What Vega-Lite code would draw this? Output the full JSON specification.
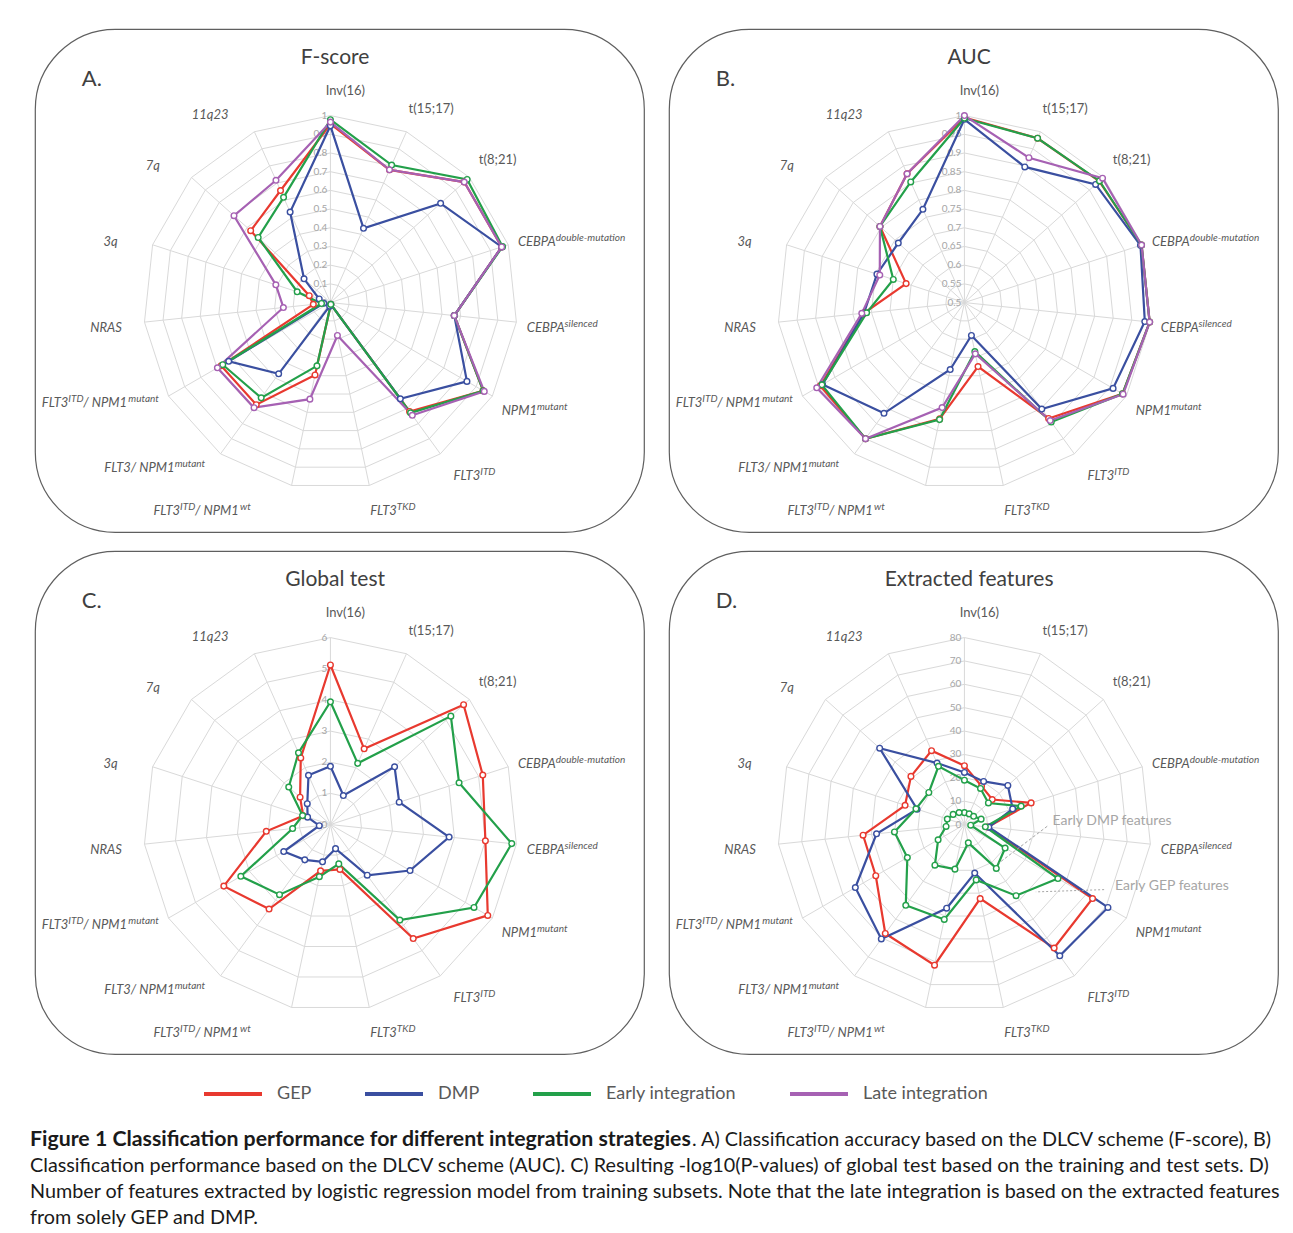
{
"$schema": "https://vega.github.io/schema/vega-lite/v6.json",
"background": "white",
"padding": {"left": 30, "top": 28, "right": 5, "bottom": 5},
"spacing": 17,
"config": {"view": {"stroke": "#5f5f5f", "strokeWidth": 1.2, "cornerRadius": 80}, "text": {"font": "Lato"}},
"vconcat": [
{
"data": {"values": [
{"p":"A","s":"GEP","k":0,"v":0.955},{"p":"A","s":"GEP","k":1,"v":0.777},{"p":"A","s":"GEP","k":2,"v":0.963},{"p":"A","s":"GEP","k":3,"v":0.963},{"p":"A","s":"GEP","k":4,"v":0.666},{"p":"A","s":"GEP","k":5,"v":0.943},{"p":"A","s":"GEP","k":6,"v":0.72},{"p":"A","s":"GEP","k":7,"v":0.01},{"p":"A","s":"GEP","k":8,"v":0.396},{"p":"A","s":"GEP","k":9,"v":0.675},{"p":"A","s":"GEP","k":10,"v":0.675},{"p":"A","s":"GEP","k":11,"v":0.092},{"p":"A","s":"GEP","k":12,"v":0.119},{"p":"A","s":"GEP","k":13,"v":0.574},{"p":"A","s":"GEP","k":14,"v":0.656},
{"p":"A","s":"DMP","k":0,"v":0.945},{"p":"A","s":"DMP","k":1,"v":0.435},{"p":"A","s":"DMP","k":2,"v":0.793},{"p":"A","s":"DMP","k":3,"v":0.963},{"p":"A","s":"DMP","k":4,"v":0.666},{"p":"A","s":"DMP","k":5,"v":0.843},{"p":"A","s":"DMP","k":6,"v":0.636},{"p":"A","s":"DMP","k":7,"v":0.01},{"p":"A","s":"DMP","k":8,"v":0.02},{"p":"A","s":"DMP","k":9,"v":0.471},{"p":"A","s":"DMP","k":10,"v":0.628},{"p":"A","s":"DMP","k":11,"v":0.036},{"p":"A","s":"DMP","k":12,"v":0.063},{"p":"A","s":"DMP","k":13,"v":0.19},{"p":"A","s":"DMP","k":14,"v":0.53},
{"p":"A","s":"Early integration","k":0,"v":0.978},{"p":"A","s":"Early integration","k":1,"v":0.805},{"p":"A","s":"Early integration","k":2,"v":0.984},{"p":"A","s":"Early integration","k":3,"v":0.968},{"p":"A","s":"Early integration","k":4,"v":0.666},{"p":"A","s":"Early integration","k":5,"v":0.943},{"p":"A","s":"Early integration","k":6,"v":0.729},{"p":"A","s":"Early integration","k":7,"v":0.01},{"p":"A","s":"Early integration","k":8,"v":0.346},{"p":"A","s":"Early integration","k":9,"v":0.63},{"p":"A","s":"Early integration","k":10,"v":0.665},{"p":"A","s":"Early integration","k":11,"v":0.048},{"p":"A","s":"Early integration","k":12,"v":0.187},{"p":"A","s":"Early integration","k":13,"v":0.52},{"p":"A","s":"Early integration","k":14,"v":0.616},
{"p":"A","s":"Late integration","k":0,"v":0.965},{"p":"A","s":"Late integration","k":1,"v":0.777},{"p":"A","s":"Late integration","k":2,"v":0.963},{"p":"A","s":"Late integration","k":3,"v":0.963},{"p":"A","s":"Late integration","k":4,"v":0.666},{"p":"A","s":"Late integration","k":5,"v":0.95},{"p":"A","s":"Late integration","k":6,"v":0.745},{"p":"A","s":"Late integration","k":7,"v":0.18},{"p":"A","s":"Late integration","k":8,"v":0.528},{"p":"A","s":"Late integration","k":9,"v":0.695},{"p":"A","s":"Late integration","k":10,"v":0.698},{"p":"A","s":"Late integration","k":11,"v":0.253},{"p":"A","s":"Late integration","k":12,"v":0.307},{"p":"A","s":"Late integration","k":13,"v":0.694},{"p":"A","s":"Late integration","k":14,"v":0.716},
{"p":"B","s":"GEP","k":0,"v":0.995},{"p":"B","s":"GEP","k":1,"v":0.981},{"p":"B","s":"GEP","k":2,"v":0.985},{"p":"B","s":"GEP","k":3,"v":0.998},{"p":"B","s":"GEP","k":4,"v":0.998},{"p":"B","s":"GEP","k":5,"v":0.988},{"p":"B","s":"GEP","k":6,"v":0.883},{"p":"B","s":"GEP","k":7,"v":0.675},{"p":"B","s":"GEP","k":8,"v":0.818},{"p":"B","s":"GEP","k":9,"v":0.95},{"p":"B","s":"GEP","k":10,"v":0.945},{"p":"B","s":"GEP","k":11,"v":0.77},{"p":"B","s":"GEP","k":12,"v":0.664},{"p":"B","s":"GEP","k":13,"v":0.804},{"p":"B","s":"GEP","k":14,"v":0.877},
{"p":"B","s":"DMP","k":0,"v":0.99},{"p":"B","s":"DMP","k":1,"v":0.897},{"p":"B","s":"DMP","k":2,"v":0.972},{"p":"B","s":"DMP","k":3,"v":0.995},{"p":"B","s":"DMP","k":4,"v":0.985},{"p":"B","s":"DMP","k":5,"v":0.959},{"p":"B","s":"DMP","k":6,"v":0.852},{"p":"B","s":"DMP","k":7,"v":0.59},{"p":"B","s":"DMP","k":8,"v":0.683},{"p":"B","s":"DMP","k":9,"v":0.866},{"p":"B","s":"DMP","k":10,"v":0.938},{"p":"B","s":"DMP","k":11,"v":0.77},{"p":"B","s":"DMP","k":12,"v":0.746},{"p":"B","s":"DMP","k":13,"v":0.738},{"p":"B","s":"DMP","k":14,"v":0.773},
{"p":"B","s":"Early integration","k":0,"v":0.993},{"p":"B","s":"Early integration","k":1,"v":0.981},{"p":"B","s":"Early integration","k":2,"v":0.986},{"p":"B","s":"Early integration","k":3,"v":0.998},{"p":"B","s":"Early integration","k":4,"v":0.998},{"p":"B","s":"Early integration","k":5,"v":0.988},{"p":"B","s":"Early integration","k":6,"v":0.895},{"p":"B","s":"Early integration","k":7,"v":0.634},{"p":"B","s":"Early integration","k":8,"v":0.82},{"p":"B","s":"Early integration","k":9,"v":0.95},{"p":"B","s":"Early integration","k":10,"v":0.94},{"p":"B","s":"Early integration","k":11,"v":0.763},{"p":"B","s":"Early integration","k":12,"v":0.7},{"p":"B","s":"Early integration","k":13,"v":0.804},{"p":"B","s":"Early integration","k":14,"v":0.853},
{"p":"B","s":"Late integration","k":0,"v":1.0},{"p":"B","s":"Late integration","k":1,"v":0.924},{"p":"B","s":"Late integration","k":2,"v":0.997},{"p":"B","s":"Late integration","k":3,"v":0.998},{"p":"B","s":"Late integration","k":4,"v":0.998},{"p":"B","s":"Late integration","k":5,"v":0.99},{"p":"B","s":"Late integration","k":6,"v":0.89},{"p":"B","s":"Late integration","k":7,"v":0.64},{"p":"B","s":"Late integration","k":8,"v":0.787},{"p":"B","s":"Late integration","k":9,"v":0.95},{"p":"B","s":"Late integration","k":10,"v":0.956},{"p":"B","s":"Late integration","k":11,"v":0.776},{"p":"B","s":"Late integration","k":12,"v":0.738},{"p":"B","s":"Late integration","k":13,"v":0.804},{"p":"B","s":"Late integration","k":14,"v":0.877},
{"p":"C","s":"GEP","k":0,"v":5.12},{"p":"C","s":"GEP","k":1,"v":2.66},{"p":"C","s":"GEP","k":2,"v":5.75},{"p":"C","s":"GEP","k":3,"v":5.14},{"p":"C","s":"GEP","k":4,"v":5.0},{"p":"C","s":"GEP","k":5,"v":5.83},{"p":"C","s":"GEP","k":6,"v":4.52},{"p":"C","s":"GEP","k":7,"v":1.47},{"p":"C","s":"GEP","k":8,"v":1.52},{"p":"C","s":"GEP","k":9,"v":3.35},{"p":"C","s":"GEP","k":10,"v":3.95},{"p":"C","s":"GEP","k":11,"v":2.07},{"p":"C","s":"GEP","k":12,"v":0.92},{"p":"C","s":"GEP","k":13,"v":1.31},{"p":"C","s":"GEP","k":14,"v":2.34},
{"p":"C","s":"DMP","k":0,"v":1.87},{"p":"C","s":"DMP","k":1,"v":1.02},{"p":"C","s":"DMP","k":2,"v":2.77},{"p":"C","s":"DMP","k":3,"v":2.32},{"p":"C","s":"DMP","k":4,"v":3.83},{"p":"C","s":"DMP","k":5,"v":2.95},{"p":"C","s":"DMP","k":6,"v":2.01},{"p":"C","s":"DMP","k":7,"v":0.79},{"p":"C","s":"DMP","k":8,"v":1.22},{"p":"C","s":"DMP","k":9,"v":1.4},{"p":"C","s":"DMP","k":10,"v":1.73},{"p":"C","s":"DMP","k":11,"v":0.36},{"p":"C","s":"DMP","k":12,"v":0.77},{"p":"C","s":"DMP","k":13,"v":1.0},{"p":"C","s":"DMP","k":14,"v":1.73},
{"p":"C","s":"Early integration","k":0,"v":3.94},{"p":"C","s":"Early integration","k":1,"v":2.15},{"p":"C","s":"Early integration","k":2,"v":5.2},{"p":"C","s":"Early integration","k":3,"v":4.34},{"p":"C","s":"Early integration","k":4,"v":5.85},{"p":"C","s":"Early integration","k":5,"v":5.32},{"p":"C","s":"Early integration","k":6,"v":3.79},{"p":"C","s":"Early integration","k":7,"v":1.29},{"p":"C","s":"Early integration","k":8,"v":1.71},{"p":"C","s":"Early integration","k":9,"v":2.78},{"p":"C","s":"Early integration","k":10,"v":3.32},{"p":"C","s":"Early integration","k":11,"v":1.22},{"p":"C","s":"Early integration","k":12,"v":0.94},{"p":"C","s":"Early integration","k":13,"v":1.8},{"p":"C","s":"Early integration","k":14,"v":2.52},
{"p":"D","s":"GEP","k":0,"v":25.2},{"p":"D","s":"GEP","k":1,"v":18},{"p":"D","s":"GEP","k":2,"v":16},{"p":"D","s":"GEP","k":3,"v":30},{"p":"D","s":"GEP","k":4,"v":10},{"p":"D","s":"GEP","k":5,"v":63.3},{"p":"D","s":"GEP","k":6,"v":65.3},{"p":"D","s":"GEP","k":7,"v":32.4},{"p":"D","s":"GEP","k":8,"v":61.5},{"p":"D","s":"GEP","k":9,"v":57.6},{"p":"D","s":"GEP","k":10,"v":43.8},{"p":"D","s":"GEP","k":11,"v":43.6},{"p":"D","s":"GEP","k":12,"v":26.7},{"p":"D","s":"GEP","k":13,"v":30.8},{"p":"D","s":"GEP","k":14,"v":34.6},
{"p":"D","s":"DMP","k":0,"v":22.3},{"p":"D","s":"DMP","k":1,"v":20.2},{"p":"D","s":"DMP","k":2,"v":25},{"p":"D","s":"DMP","k":3,"v":21.7},{"p":"D","s":"DMP","k":4,"v":10.5},{"p":"D","s":"DMP","k":5,"v":70.9},{"p":"D","s":"DMP","k":6,"v":69.4},{"p":"D","s":"DMP","k":7,"v":21.2},{"p":"D","s":"DMP","k":8,"v":36.6},{"p":"D","s":"DMP","k":9,"v":60.5},{"p":"D","s":"DMP","k":10,"v":53.9},{"p":"D","s":"DMP","k":11,"v":37.8},{"p":"D","s":"DMP","k":12,"v":21.3},{"p":"D","s":"DMP","k":13,"v":48.8},{"p":"D","s":"DMP","k":14,"v":28.8},
{"p":"D","s":"Early integration","g":"GEP features","k":0,"v":19},{"p":"D","s":"Early integration","g":"GEP features","k":1,"v":16.9},{"p":"D","s":"Early integration","g":"GEP features","k":2,"v":13.8},{"p":"D","s":"Early integration","g":"GEP features","k":3,"v":25.5},{"p":"D","s":"Early integration","g":"GEP features","k":4,"v":9},{"p":"D","s":"Early integration","g":"GEP features","k":5,"v":46.2},{"p":"D","s":"Early integration","g":"GEP features","k":6,"v":37.6},{"p":"D","s":"Early integration","g":"GEP features","k":7,"v":24.2},{"p":"D","s":"Early integration","g":"GEP features","k":8,"v":41.5},{"p":"D","s":"Early integration","g":"GEP features","k":9,"v":42.7},{"p":"D","s":"Early integration","g":"GEP features","k":10,"v":28.2},{"p":"D","s":"Early integration","g":"GEP features","k":11,"v":30.1},{"p":"D","s":"Early integration","g":"GEP features","k":12,"v":21.8},{"p":"D","s":"Early integration","g":"GEP features","k":13,"v":20.5},{"p":"D","s":"Early integration","g":"GEP features","k":14,"v":27.3},
{"p":"D","s":"Early integration","g":"DMP features","k":0,"v":5.1},{"p":"D","s":"Early integration","g":"DMP features","k":1,"v":5.0},{"p":"D","s":"Early integration","g":"DMP features","k":2,"v":5.3},{"p":"D","s":"Early integration","g":"DMP features","k":3,"v":7.5},{"p":"D","s":"Early integration","g":"DMP features","k":4,"v":2.7},{"p":"D","s":"Early integration","g":"DMP features","k":5,"v":20.1},{"p":"D","s":"Early integration","g":"DMP features","k":6,"v":23.2},{"p":"D","s":"Early integration","g":"DMP features","k":7,"v":8.0},{"p":"D","s":"Early integration","g":"DMP features","k":8,"v":19.5},{"p":"D","s":"Early integration","g":"DMP features","k":9,"v":21.5},{"p":"D","s":"Early integration","g":"DMP features","k":10,"v":13},{"p":"D","s":"Early integration","g":"DMP features","k":11,"v":7.9},{"p":"D","s":"Early integration","g":"DMP features","k":12,"v":7.7},{"p":"D","s":"Early integration","g":"DMP features","k":13,"v":6.5},{"p":"D","s":"Early integration","g":"DMP features","k":14,"v":5.6},
{"p":"A","v":0,"k":[0,1,2,3,4,5,6,7,8,9,10,11,12,13,14]},{"p":"A","v":0.1,"k":[0,1,2,3,4,5,6,7,8,9,10,11,12,13,14]},{"p":"A","v":0.2,"k":[0,1,2,3,4,5,6,7,8,9,10,11,12,13,14]},{"p":"A","v":0.3,"k":[0,1,2,3,4,5,6,7,8,9,10,11,12,13,14]},{"p":"A","v":0.4,"k":[0,1,2,3,4,5,6,7,8,9,10,11,12,13,14]},{"p":"A","v":0.5,"k":[0,1,2,3,4,5,6,7,8,9,10,11,12,13,14]},{"p":"A","v":0.6,"k":[0,1,2,3,4,5,6,7,8,9,10,11,12,13,14]},{"p":"A","v":0.7,"k":[0,1,2,3,4,5,6,7,8,9,10,11,12,13,14]},{"p":"A","v":0.8,"k":[0,1,2,3,4,5,6,7,8,9,10,11,12,13,14]},{"p":"A","v":0.9,"k":[0,1,2,3,4,5,6,7,8,9,10,11,12,13,14]},{"p":"A","v":1,"k":[0,1,2,3,4,5,6,7,8,9,10,11,12,13,14]},
{"p":"B","v":0.5,"k":[0,1,2,3,4,5,6,7,8,9,10,11,12,13,14]},{"p":"B","v":0.55,"k":[0,1,2,3,4,5,6,7,8,9,10,11,12,13,14]},{"p":"B","v":0.6,"k":[0,1,2,3,4,5,6,7,8,9,10,11,12,13,14]},{"p":"B","v":0.65,"k":[0,1,2,3,4,5,6,7,8,9,10,11,12,13,14]},{"p":"B","v":0.7,"k":[0,1,2,3,4,5,6,7,8,9,10,11,12,13,14]},{"p":"B","v":0.75,"k":[0,1,2,3,4,5,6,7,8,9,10,11,12,13,14]},{"p":"B","v":0.8,"k":[0,1,2,3,4,5,6,7,8,9,10,11,12,13,14]},{"p":"B","v":0.85,"k":[0,1,2,3,4,5,6,7,8,9,10,11,12,13,14]},{"p":"B","v":0.9,"k":[0,1,2,3,4,5,6,7,8,9,10,11,12,13,14]},{"p":"B","v":0.95,"k":[0,1,2,3,4,5,6,7,8,9,10,11,12,13,14]},{"p":"B","v":1,"k":[0,1,2,3,4,5,6,7,8,9,10,11,12,13,14]},
{"p":"C","v":0,"k":[0,1,2,3,4,5,6,7,8,9,10,11,12,13,14]},{"p":"C","v":1,"k":[0,1,2,3,4,5,6,7,8,9,10,11,12,13,14]},{"p":"C","v":2,"k":[0,1,2,3,4,5,6,7,8,9,10,11,12,13,14]},{"p":"C","v":3,"k":[0,1,2,3,4,5,6,7,8,9,10,11,12,13,14]},{"p":"C","v":4,"k":[0,1,2,3,4,5,6,7,8,9,10,11,12,13,14]},{"p":"C","v":5,"k":[0,1,2,3,4,5,6,7,8,9,10,11,12,13,14]},{"p":"C","v":6,"k":[0,1,2,3,4,5,6,7,8,9,10,11,12,13,14]},
{"p":"D","v":0,"k":[0,1,2,3,4,5,6,7,8,9,10,11,12,13,14]},{"p":"D","v":10,"k":[0,1,2,3,4,5,6,7,8,9,10,11,12,13,14]},{"p":"D","v":20,"k":[0,1,2,3,4,5,6,7,8,9,10,11,12,13,14]},{"p":"D","v":30,"k":[0,1,2,3,4,5,6,7,8,9,10,11,12,13,14]},{"p":"D","v":40,"k":[0,1,2,3,4,5,6,7,8,9,10,11,12,13,14]},{"p":"D","v":50,"k":[0,1,2,3,4,5,6,7,8,9,10,11,12,13,14]},{"p":"D","v":60,"k":[0,1,2,3,4,5,6,7,8,9,10,11,12,13,14]},{"p":"D","v":70,"k":[0,1,2,3,4,5,6,7,8,9,10,11,12,13,14]},{"p":"D","v":80,"k":[0,1,2,3,4,5,6,7,8,9,10,11,12,13,14]},
{"p":"A","k":0,"t":"Inv(16)","s1":"","m":"","s2":""},{"p":"A","k":1,"t":"t(15;17)","s1":"","m":"","s2":""},{"p":"A","k":2,"t":"t(8;21)","s1":"","m":"","s2":""},{"p":"A","k":3,"t":"CEBPA","s1":"double-mutation","m":"","s2":""},{"p":"A","k":4,"t":"CEBPA","s1":"silenced","m":"","s2":""},{"p":"A","k":5,"t":"NPM1","s1":"mutant","m":"","s2":""},{"p":"A","k":6,"t":"FLT3","s1":"ITD","m":"","s2":""},{"p":"A","k":7,"t":"FLT3","s1":"TKD","m":"","s2":""},{"p":"A","k":8,"t":"FLT3","s1":"ITD","m":"/ NPM1","s2":"wt"},{"p":"A","k":9,"t":"FLT3/ NPM1","s1":"mutant","m":"","s2":""},{"p":"A","k":10,"t":"FLT3","s1":"ITD","m":"/ NPM1","s2":"mutant"},{"p":"A","k":11,"t":"NRAS","s1":"","m":"","s2":""},{"p":"A","k":12,"t":"3q","s1":"","m":"","s2":""},{"p":"A","k":13,"t":"7q","s1":"","m":"","s2":""},{"p":"A","k":14,"t":"11q23","s1":"","m":"","s2":""},
{"p":"B","k":0,"t":"Inv(16)","s1":"","m":"","s2":""},{"p":"B","k":1,"t":"t(15;17)","s1":"","m":"","s2":""},{"p":"B","k":2,"t":"t(8;21)","s1":"","m":"","s2":""},{"p":"B","k":3,"t":"CEBPA","s1":"double-mutation","m":"","s2":""},{"p":"B","k":4,"t":"CEBPA","s1":"silenced","m":"","s2":""},{"p":"B","k":5,"t":"NPM1","s1":"mutant","m":"","s2":""},{"p":"B","k":6,"t":"FLT3","s1":"ITD","m":"","s2":""},{"p":"B","k":7,"t":"FLT3","s1":"TKD","m":"","s2":""},{"p":"B","k":8,"t":"FLT3","s1":"ITD","m":"/ NPM1","s2":"wt"},{"p":"B","k":9,"t":"FLT3/ NPM1","s1":"mutant","m":"","s2":""},{"p":"B","k":10,"t":"FLT3","s1":"ITD","m":"/ NPM1","s2":"mutant"},{"p":"B","k":11,"t":"NRAS","s1":"","m":"","s2":""},{"p":"B","k":12,"t":"3q","s1":"","m":"","s2":""},{"p":"B","k":13,"t":"7q","s1":"","m":"","s2":""},{"p":"B","k":14,"t":"11q23","s1":"","m":"","s2":""},
{"p":"C","k":0,"t":"Inv(16)","s1":"","m":"","s2":""},{"p":"C","k":1,"t":"t(15;17)","s1":"","m":"","s2":""},{"p":"C","k":2,"t":"t(8;21)","s1":"","m":"","s2":""},{"p":"C","k":3,"t":"CEBPA","s1":"double-mutation","m":"","s2":""},{"p":"C","k":4,"t":"CEBPA","s1":"silenced","m":"","s2":""},{"p":"C","k":5,"t":"NPM1","s1":"mutant","m":"","s2":""},{"p":"C","k":6,"t":"FLT3","s1":"ITD","m":"","s2":""},{"p":"C","k":7,"t":"FLT3","s1":"TKD","m":"","s2":""},{"p":"C","k":8,"t":"FLT3","s1":"ITD","m":"/ NPM1","s2":"wt"},{"p":"C","k":9,"t":"FLT3/ NPM1","s1":"mutant","m":"","s2":""},{"p":"C","k":10,"t":"FLT3","s1":"ITD","m":"/ NPM1","s2":"mutant"},{"p":"C","k":11,"t":"NRAS","s1":"","m":"","s2":""},{"p":"C","k":12,"t":"3q","s1":"","m":"","s2":""},{"p":"C","k":13,"t":"7q","s1":"","m":"","s2":""},{"p":"C","k":14,"t":"11q23","s1":"","m":"","s2":""},
{"p":"D","k":0,"t":"Inv(16)","s1":"","m":"","s2":""},{"p":"D","k":1,"t":"t(15;17)","s1":"","m":"","s2":""},{"p":"D","k":2,"t":"t(8;21)","s1":"","m":"","s2":""},{"p":"D","k":3,"t":"CEBPA","s1":"double-mutation","m":"","s2":""},{"p":"D","k":4,"t":"CEBPA","s1":"silenced","m":"","s2":""},{"p":"D","k":5,"t":"NPM1","s1":"mutant","m":"","s2":""},{"p":"D","k":6,"t":"FLT3","s1":"ITD","m":"","s2":""},{"p":"D","k":7,"t":"FLT3","s1":"TKD","m":"","s2":""},{"p":"D","k":8,"t":"FLT3","s1":"ITD","m":"/ NPM1","s2":"wt"},{"p":"D","k":9,"t":"FLT3/ NPM1","s1":"mutant","m":"","s2":""},{"p":"D","k":10,"t":"FLT3","s1":"ITD","m":"/ NPM1","s2":"mutant"},{"p":"D","k":11,"t":"NRAS","s1":"","m":"","s2":""},{"p":"D","k":12,"t":"3q","s1":"","m":"","s2":""},{"p":"D","k":13,"t":"7q","s1":"","m":"","s2":""},{"p":"D","k":14,"t":"11q23","s1":"","m":"","s2":""},
{"p":"A","ttl":"F-score","lt":"A."},{"p":"B","ttl":"AUC","lt":"B."},{"p":"C","ttl":"Global test","lt":"C."},{"p":"D","ttl":"Extracted features","lt":"D."},
{"p":"D","note":"Early DMP features"},{"p":"D","note":"Early GEP features"}
]},
"transform": [{"calculate": "datum.p=='A' || datum.p=='B' ? 0 : 1", "as": "prow"}, {"calculate": "datum.p=='A' || datum.p=='C' ? 0 : 1", "as": "pcol"}],
"facet": {"row": {"field": "prow", "type": "ordinal", "header": null}, "column": {"field": "pcol", "type": "ordinal", "header": null}},
"spacing": {"row": 17, "column": 23},
"spec": {
"width": 609, "height": 503,
"encoding": {
"x": {"field": "x", "type": "quantitative", "scale": {"domain": [-1.58, 1.677], "nice": false, "zero": false}, "axis": null},
"y": {"field": "y", "type": "quantitative", "scale": {"domain": [-1.227, 1.463], "nice": false, "zero": false}, "axis": null}
},
"layer": [
{"transform": [{"filter": "isArray(datum.k)"}, {"flatten": ["k"]}, {"calculate": "datum.p=='B' ? (datum.v-0.5)/0.5 : datum.p=='C' ? datum.v/6 : datum.p=='D' ? datum.v/80 : datum.v", "as": "r"}, {"calculate": "datum.r*sin(datum.k*PI/7.5)", "as": "x"}, {"calculate": "datum.r*cos(datum.k*PI/7.5)", "as": "y"}],
 "mark": {"type": "line", "interpolate": "linear-closed", "stroke": "#d9d9d9", "strokeWidth": 1},
 "encoding": {"detail": {"field": "v", "type": "nominal"}, "order": {"field": "k", "type": "quantitative"}}},
{"transform": [{"filter": "datum.t != null"}, {"calculate": "0", "as": "x"}, {"calculate": "0", "as": "y"}, {"calculate": "sin(datum.k*PI/7.5)", "as": "ex"}, {"calculate": "cos(datum.k*PI/7.5)", "as": "ey"}],
 "mark": {"type": "rule", "stroke": "#d9d9d9", "strokeWidth": 1},
 "encoding": {"x2": {"field": "ex"}, "y2": {"field": "ey"}}},
{"transform": [{"filter": "isArray(datum.k)"}, {"calculate": "datum.p=='B' ? (datum.v-0.5)/0.5 : datum.p=='C' ? datum.v/6 : datum.p=='D' ? datum.v/80 : datum.v", "as": "y"}, {"calculate": "0", "as": "x"}],
 "mark": {"type": "text", "align": "right", "baseline": "middle", "dx": -3, "fontSize": 10, "color": "#a6a6a6"},
 "encoding": {"text": {"field": "v", "type": "nominal"}}},
{"transform": [{"filter": "datum.s != null"}, {"calculate": "datum.p=='B' ? (datum.v-0.5)/0.5 : datum.p=='C' ? datum.v/6 : datum.p=='D' ? datum.v/80 : datum.v", "as": "r"}, {"calculate": "datum.r*sin(datum.k*PI/7.5)", "as": "x"}, {"calculate": "datum.r*cos(datum.k*PI/7.5)", "as": "y"}],
 "mark": {"type": "line", "interpolate": "linear-closed", "strokeWidth": 2.2},
 "encoding": {
  "color": {"field": "s", "type": "nominal", "scale": {"domain": ["GEP", "DMP", "Early integration", "Late integration"], "range": ["#e8392f", "#3a4fa0", "#23a04a", "#a661b3"]},
   "legend": {"orient": "none", "legendX": 167, "legendY": 1034, "direction": "horizontal", "title": null, "symbolType": "stroke", "symbolStrokeWidth": 4, "symbolSize": 3364, "labelFont": "Lato", "labelFontSize": 18, "labelColor": "#595959", "labelOffset": 13, "columnPadding": 45, "padding": 0}},
  "detail": {"field": "g", "type": "nominal"},
  "order": {"field": "k", "type": "quantitative"}}},
{"transform": [{"filter": "datum.s != null"}, {"calculate": "datum.p=='B' ? (datum.v-0.5)/0.5 : datum.p=='C' ? datum.v/6 : datum.p=='D' ? datum.v/80 : datum.v", "as": "r"}, {"calculate": "datum.r*sin(datum.k*PI/7.5)", "as": "x"}, {"calculate": "datum.r*cos(datum.k*PI/7.5)", "as": "y"}],
 "mark": {"type": "point", "shape": "circle", "filled": true, "fill": "white", "size": 32, "strokeWidth": 1.4, "opacity": 1},
 "encoding": {"stroke": {"field": "s", "type": "nominal", "scale": {"domain": ["GEP", "DMP", "Early integration", "Late integration"], "range": ["#e8392f", "#3a4fa0", "#23a04a", "#a661b3"]}, "legend": null}}},
{"transform": [{"filter": "datum.t != null && datum.k < 3"}, {"calculate": "datum.k*PI/7.5", "as": "ang"}, {"calculate": "length(datum.t)*(datum.k < 3 ? 5.8 : 7.5)", "as": "w1"}, {"calculate": "length(datum.s1)*5", "as": "w2"}, {"calculate": "length(datum.m)*7.5", "as": "w3"}, {"calculate": "length(datum.s2)*5", "as": "w4"}, {"calculate": "1.09*sin(datum.ang)", "as": "ax"}, {"calculate": "sin(datum.ang) < -0.01 ? max(datum.ax - (datum.w1+datum.w2+datum.w3+datum.w4)/187, -1.53) + (cos(datum.ang) > 0 ? -19 : (sin(datum.ang) > -0.3 ? -38 : -6))/187 : datum.ax + ((cos(datum.ang) < -0.3 && cos(datum.ang) > -0.9) ? 0 : -6)/187", "as": "xs"}, {"calculate": "1.12*cos(datum.ang) + ((sin(datum.ang) < -0.3 && cos(datum.ang) < -0.3) ? 8/187 : 0)", "as": "y"}, {"calculate": "datum.xs + datum.w1/187", "as": "x"}],
 "mark": {"type": "text", "align": "right", "baseline": "middle", "dy": -2, "fontSize": 13, "color": "#595959"},
 "encoding": {"text": {"field": "t"}}},
{"transform": [{"filter": "datum.t != null && datum.k >= 3"}, {"calculate": "datum.k*PI/7.5", "as": "ang"}, {"calculate": "length(datum.t)*(datum.k < 3 ? 5.8 : 7.5)", "as": "w1"}, {"calculate": "length(datum.s1)*5", "as": "w2"}, {"calculate": "length(datum.m)*7.5", "as": "w3"}, {"calculate": "length(datum.s2)*5", "as": "w4"}, {"calculate": "1.09*sin(datum.ang)", "as": "ax"}, {"calculate": "sin(datum.ang) < -0.01 ? max(datum.ax - (datum.w1+datum.w2+datum.w3+datum.w4)/187, -1.53) + (cos(datum.ang) > 0 ? -19 : (sin(datum.ang) > -0.3 ? -38 : -6))/187 : datum.ax + ((cos(datum.ang) < -0.3 && cos(datum.ang) > -0.9) ? 0 : -6)/187", "as": "xs"}, {"calculate": "1.12*cos(datum.ang) + ((sin(datum.ang) < -0.3 && cos(datum.ang) < -0.3) ? 8/187 : 0)", "as": "y"}, {"calculate": "datum.xs + datum.w1/187", "as": "x"}],
 "mark": {"type": "text", "align": "right", "baseline": "middle", "dy": 4, "fontSize": 13, "fontStyle": "italic", "color": "#595959"},
 "encoding": {"text": {"field": "t"}}},
{"transform": [{"filter": "datum.t != null && datum.s1 != ''"}, {"calculate": "datum.k*PI/7.5", "as": "ang"}, {"calculate": "length(datum.t)*(datum.k < 3 ? 5.8 : 7.5)", "as": "w1"}, {"calculate": "length(datum.s1)*5", "as": "w2"}, {"calculate": "length(datum.m)*7.5", "as": "w3"}, {"calculate": "length(datum.s2)*5", "as": "w4"}, {"calculate": "1.09*sin(datum.ang)", "as": "ax"}, {"calculate": "sin(datum.ang) < -0.01 ? max(datum.ax - (datum.w1+datum.w2+datum.w3+datum.w4)/187, -1.53) + (cos(datum.ang) > 0 ? -19 : (sin(datum.ang) > -0.3 ? -38 : -6))/187 : datum.ax + ((cos(datum.ang) < -0.3 && cos(datum.ang) > -0.9) ? 0 : -6)/187", "as": "xs"}, {"calculate": "1.12*cos(datum.ang) + ((sin(datum.ang) < -0.3 && cos(datum.ang) < -0.3) ? 8/187 : 0)", "as": "y"}, {"calculate": "datum.xs + datum.w1/187", "as": "x"}],
 "mark": {"type": "text", "align": "left", "baseline": "middle", "dy": 0, "fontSize": 10, "fontStyle": "italic", "color": "#595959"},
 "encoding": {"text": {"field": "s1"}}},
{"transform": [{"filter": "datum.t != null && datum.m != ''"}, {"calculate": "datum.k*PI/7.5", "as": "ang"}, {"calculate": "length(datum.t)*(datum.k < 3 ? 5.8 : 7.5)", "as": "w1"}, {"calculate": "length(datum.s1)*5", "as": "w2"}, {"calculate": "length(datum.m)*7.5", "as": "w3"}, {"calculate": "length(datum.s2)*5", "as": "w4"}, {"calculate": "1.09*sin(datum.ang)", "as": "ax"}, {"calculate": "sin(datum.ang) < -0.01 ? max(datum.ax - (datum.w1+datum.w2+datum.w3+datum.w4)/187, -1.53) + (cos(datum.ang) > 0 ? -19 : (sin(datum.ang) > -0.3 ? -38 : -6))/187 : datum.ax + ((cos(datum.ang) < -0.3 && cos(datum.ang) > -0.9) ? 0 : -6)/187", "as": "xs"}, {"calculate": "1.12*cos(datum.ang) + ((sin(datum.ang) < -0.3 && cos(datum.ang) < -0.3) ? 8/187 : 0)", "as": "y"}, {"calculate": "datum.xs + (datum.w1+datum.w2)/187", "as": "x"}],
 "mark": {"type": "text", "align": "left", "baseline": "middle", "dy": 4, "fontSize": 13, "fontStyle": "italic", "color": "#595959"},
 "encoding": {"text": {"field": "m"}}},
{"transform": [{"filter": "datum.t != null && datum.s2 != ''"}, {"calculate": "datum.k*PI/7.5", "as": "ang"}, {"calculate": "length(datum.t)*(datum.k < 3 ? 5.8 : 7.5)", "as": "w1"}, {"calculate": "length(datum.s1)*5", "as": "w2"}, {"calculate": "length(datum.m)*7.5", "as": "w3"}, {"calculate": "length(datum.s2)*5", "as": "w4"}, {"calculate": "1.09*sin(datum.ang)", "as": "ax"}, {"calculate": "sin(datum.ang) < -0.01 ? max(datum.ax - (datum.w1+datum.w2+datum.w3+datum.w4)/187, -1.53) + (cos(datum.ang) > 0 ? -19 : (sin(datum.ang) > -0.3 ? -38 : -6))/187 : datum.ax + ((cos(datum.ang) < -0.3 && cos(datum.ang) > -0.9) ? 0 : -6)/187", "as": "xs"}, {"calculate": "1.12*cos(datum.ang) + ((sin(datum.ang) < -0.3 && cos(datum.ang) < -0.3) ? 8/187 : 0)", "as": "y"}, {"calculate": "datum.xs + (datum.w1+datum.w2+datum.w3)/187", "as": "x"}],
 "mark": {"type": "text", "align": "left", "baseline": "middle", "dy": 0, "fontSize": 10, "fontStyle": "italic", "color": "#595959"},
 "encoding": {"text": {"field": "s2"}}},
{"transform": [{"filter": "datum.ttl != null"}, {"calculate": "0.025", "as": "x"}, {"calculate": "1.306", "as": "y"}],
 "mark": {"type": "text", "align": "center", "baseline": "middle", "fontSize": 21, "color": "#404040"},
 "encoding": {"text": {"field": "ttl"}}},
{"transform": [{"filter": "datum.ttl != null"}, {"calculate": "-1.33", "as": "x"}, {"calculate": "1.196", "as": "y"}],
 "mark": {"type": "text", "align": "left", "baseline": "middle", "fontSize": 22, "color": "#404040"},
 "encoding": {"text": {"field": "lt"}}},
{"transform": [{"filter": "datum.note == 'Early DMP features'"}, {"calculate": "0.471", "as": "x"}, {"calculate": "0.021", "as": "y"}],
 "mark": {"type": "text", "align": "left", "baseline": "middle", "fontSize": 14, "color": "#a6a6a6"},
 "encoding": {"text": {"field": "note"}}},
{"transform": [{"filter": "datum.note == 'Early DMP features'"}, {"calculate": "0.443", "as": "x"}, {"calculate": "-0.009", "as": "y"}, {"calculate": "0.184", "as": "ex"}, {"calculate": "-0.206", "as": "ey"}],
 "mark": {"type": "rule", "stroke": "#a6a6a6", "strokeWidth": 1, "strokeDash": [3, 2]},
 "encoding": {"x2": {"field": "ex"}, "y2": {"field": "ey"}}},
{"transform": [{"filter": "datum.note == 'Early GEP features'"}, {"calculate": "0.805", "as": "x"}, {"calculate": "-0.327", "as": "y"}],
 "mark": {"type": "text", "align": "left", "baseline": "middle", "fontSize": 14, "color": "#a6a6a6"},
 "encoding": {"text": {"field": "note"}}},
{"transform": [{"filter": "datum.note == 'Early GEP features'"}, {"calculate": "0.747", "as": "x"}, {"calculate": "-0.348", "as": "y"}, {"calculate": "0.382", "as": "ex"}, {"calculate": "-0.36", "as": "ey"}],
 "mark": {"type": "rule", "stroke": "#a6a6a6", "strokeWidth": 1, "strokeDash": [2, 2]},
 "encoding": {"x2": {"field": "ex"}, "y2": {"field": "ey"}}}
]
}
},
{
"width": 1248, "height": 160,
"view": {"stroke": null},
"data": {"values": [
{"ln": 1, "part": "b", "txt": "Figure 1 Classification performance for different integration strategies"},
{"ln": 1, "part": "r", "txt": ". A) Classification accuracy based on the DLCV scheme (F-score), B)"},
{"ln": 2, "part": "l", "txt": "Classification performance based on the DLCV scheme (AUC). C) Resulting -log10(P-values) of global test based on the training and test sets. D)"},
{"ln": 3, "part": "l", "txt": "Number of features extracted by logistic regression model from training subsets. Note that the late integration is based on the extracted features"},
{"ln": 4, "part": "l", "txt": "from solely GEP and DMP."}
]},
"encoding": {"y": {"field": "ln", "type": "quantitative", "scale": {"domain": [-1.615, 4.538], "reverse": true, "nice": false, "zero": false}, "axis": null}},
"layer": [
{"transform": [{"filter": "datum.part == 'b'"}],
 "mark": {"type": "text", "align": "left", "baseline": "middle", "dx": -5, "fontSize": 21.3, "fontWeight": "bold", "color": "#1a1a1a"},
 "encoding": {"x": {"datum": 0, "type": "quantitative", "scale": {"domain": [0, 1], "nice": false, "zero": false}, "axis": null}, "text": {"field": "txt"}}},
{"transform": [{"filter": "datum.part == 'l'"}],
 "mark": {"type": "text", "align": "left", "baseline": "middle", "dx": -5, "fontSize": 19.8, "color": "#1a1a1a"},
 "encoding": {"x": {"datum": 0, "type": "quantitative", "scale": {"domain": [0, 1], "nice": false, "zero": false}, "axis": null}, "text": {"field": "txt"}}},
{"transform": [{"filter": "datum.part == 'r'"}],
 "mark": {"type": "text", "align": "left", "baseline": "middle", "dx": 657, "fontSize": 19.8, "color": "#1a1a1a"},
 "encoding": {"x": {"datum": 0, "type": "quantitative", "scale": {"domain": [0, 1], "nice": false, "zero": false}, "axis": null}, "text": {"field": "txt"}}}
]
}
]
}
